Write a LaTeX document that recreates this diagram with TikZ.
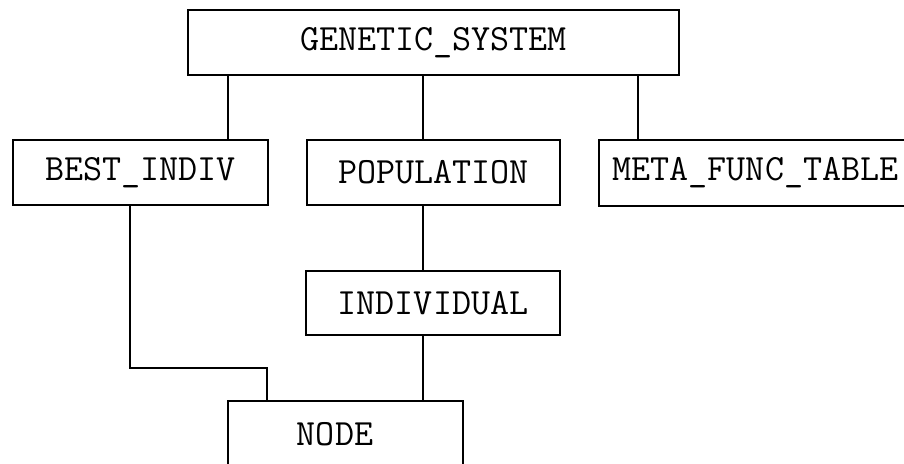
\documentclass[tikz,border=0pt]{standalone}
\usepackage{fontspec}
\begin{document}
\begin{tikzpicture}[x=1pt,y=-1pt,
  cls/.style={draw, line width=1.8pt, rectangle, inner sep=0pt,
    font=\ttfamily\fontsize{37}{40}\selectfont},
  link/.style={line width=1.8pt}]
  \useasboundingbox (0,0) rectangle (904,463);
  \clip (0,0) rectangle (904,463);

  % classes
  \node[cls, minimum width=491pt, minimum height=65pt] (gs)  at (433.5,42.5) {GENETIC\_SYSTEM};
  \node[cls, minimum width=255pt, minimum height=65pt] (bi)  at (140.5,172.5) {BEST\_INDIV};
  \node[cls, minimum width=253pt, minimum height=65pt] (pop) at (433.5,172.5) {POPULATION};
  \node[cls, minimum width=313pt, minimum height=66pt] (mft) at (755.5,173) {META\_FUNC\_TABLE};
  \node[cls, minimum width=254pt, minimum height=64pt] (ind) at (433,303) {INDIVIDUAL};
  \node[cls, minimum width=235pt, minimum height=67pt] (nd)  at (345.5,434.5) {NODE\hspace*{21pt}};

  % connector columns
  \coordinate (xa) at (228,0);
  \coordinate (xb) at (423,0);
  \coordinate (xc) at (638,0);
  \coordinate (bend1) at (130,368);
  \coordinate (bend2) at (267,368);

  % links
  \draw[link] (xa |- gs.south) -- (xa |- bi.north);
  \draw[link] (xb |- gs.south) -- (xb |- pop.north);
  \draw[link] (xc |- gs.south) -- (xc |- mft.north);
  \draw[link] (xb |- pop.south) -- (xb |- ind.north);
  \draw[link] (xb |- ind.south) -- (xb |- nd.north);
  \draw[link] (bend1 |- bi.south) -- (bend1) -- (bend2) -- (bend2 |- nd.north);
\end{tikzpicture}
\end{document}
